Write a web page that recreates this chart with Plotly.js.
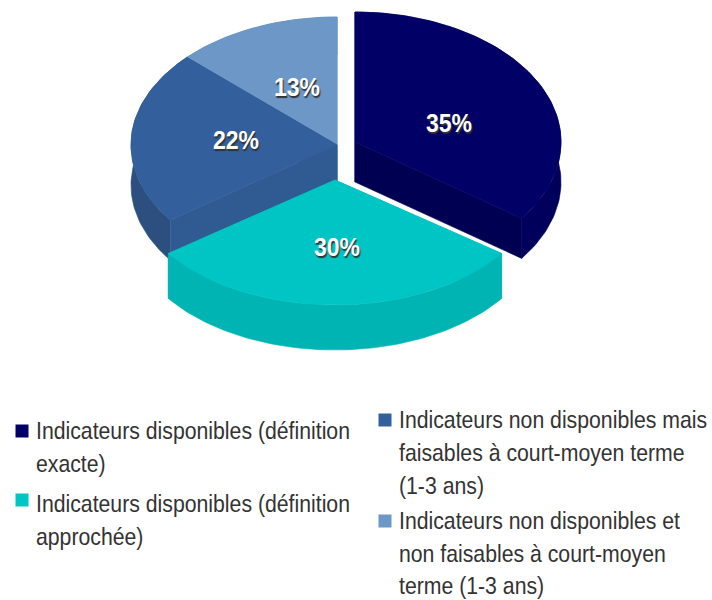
<!DOCTYPE html>
<html>
<head>
<meta charset="utf-8">
<script src="https://cdn.plot.ly/plotly-3.0.1.min.js"></script>
<style>html,body{margin:0;padding:0;background:#fff}#c{width:712px;height:600px}</style>
</head>
<body>
<div id="c"></div>
<script>
var categories = [
  "Indicateurs disponibles (définition exacte)",
  "Indicateurs disponibles (définition approchée)",
  "Indicateurs non disponibles mais faisables à court-moyen terme (1-3 ans)",
  "Indicateurs non disponibles et non faisables à court-moyen terme (1-3 ans)"
];
var values = [35, 30, 22, 13];
var legendLines = [
  ["Indicateurs disponibles (définition", "exacte)"],
  ["Indicateurs disponibles (définition", "approchée)"],
  ["Indicateurs non disponibles mais", "faisables à court-moyen terme", "(1-3 ans)"],
  ["Indicateurs non disponibles et", "non faisables à court-moyen", "terme (1-3 ans)"]
];
var topColors = ["#000066", "#00c5c5", "#335f9c", "#6c97c7"];
var edgeColors = ["#000052", "#00b4b4", "#2f5a92", "#6c97c7"];
var wallColors = ["#00005c", "#00b4b4", "#2d4f80", "#5a82b0"];

// layout constants
var cx = 337, cy = 145, rx = 206;
var radiusY = [130, 125, 128, 128], depths = [40, 45, 40, 38];
var explodeX = [18, -2, 0, 0], explodeY = [-3, 35, 0, 0];
var labelX = [449, 337, 236, 297], labelY = [126, 250, 143, 90];
var swatchX = [22, 22, 385, 385], swatchY = [431, 500, 420, 521];
var textX = [36, 36, 399, 399], textY = [433.5, 506, 422.5, 523.5], linePitch = [33, 33, 33, 32.5];
var FONT = "'Liberation Sans',Arial,sans-serif";

var total = values.reduce(function (a, b) { return a + b; }, 0);
function pt(c, ry, a, dz) {
  return [c[0] + rx * Math.sin(a), c[1] - ry * Math.cos(a) + (dz || 0)];
}
function poly(pts, color) {
  return {
    type: "scatter", mode: "lines", fill: "toself", fillcolor: color,
    x: pts.map(function (p) { return p[0]; }),
    y: pts.map(function (p) { return p[1]; }),
    line: { color: color, width: 0.6 }, hoverinfo: "skip", showlegend: false
  };
}
function arc(c, ry, a0, a1, dz) {
  var n = Math.max(8, Math.ceil(Math.abs(a1 - a0) * 40)), out = [];
  for (var i = 0; i <= n; i++) out.push(pt(c, ry, a0 + (a1 - a0) * i / n, dz));
  return out;
}

// angular span of each slice, clockwise from the top
var spans = [], acc = 0;
values.forEach(function (v) {
  var a0 = acc / total * 2 * Math.PI;
  acc += v;
  spans.push([a0, acc / total * 2 * Math.PI]);
});
// painter's order: back slices first, front slice last
var paintOrder = [3, 2, 0, 1];
var traces = [];
paintOrder.forEach(function (i) {
  var a0 = spans[i][0], a1 = spans[i][1], ry = radiusY[i], depth = depths[i];
  var c = [cx + explodeX[i], cy + explodeY[i]];
  var cb = [c[0], c[1] + depth];
  [a0, a1].forEach(function (a) {
    traces.push(poly([c, pt(c, ry, a), pt(c, ry, a, depth), cb, c], edgeColors[i]));
  });
  traces.push(poly(arc(c, ry, a0, a1, 0).concat(arc(c, ry, a1, a0, depth)), wallColors[i]));
  traces.push(poly([c].concat(arc(c, ry, a0, a1, 0)).concat([c]), topColors[i]));
});

// percentage labels
traces.push({
  type: "scatter", mode: "text", x: labelX, y: labelY,
  text: values.map(function (v) { return v + "%"; }),
  textposition: "middle center",
  textfont: { family: FONT, size: 26, color: "#ffffff", weight: 700, shadow: "1px 1px 1px #333" },
  hoverinfo: "skip", showlegend: false
});
// legend swatches
traces.push({
  type: "scatter", mode: "markers", x: swatchX, y: swatchY, name: "legende",
  customdata: categories,
  marker: { symbol: "square", size: 13, color: topColors, line: { width: 0 } },
  hoverinfo: "skip", showlegend: false
});
// legend text, one point per line
var lx = [], ly = [], lt = [];
legendLines.forEach(function (lines, i) {
  lines.forEach(function (s, j) {
    lx.push(textX[i]); ly.push(textY[i] + j * linePitch[i]); lt.push(s);
  });
});
traces.push({
  type: "scatter", mode: "text", x: lx, y: ly, text: lt,
  textposition: "middle right",
  textfont: { family: FONT, size: 24, color: "#333333" },
  hoverinfo: "skip", showlegend: false
});

Plotly.newPlot("c", traces, {
  width: 712, height: 600,
  margin: { l: 0, r: 0, t: 0, b: 0 },
  paper_bgcolor: "#ffffff", plot_bgcolor: "#ffffff",
  xaxis: { range: [0, 712], visible: false, fixedrange: true },
  yaxis: { range: [600, 0], visible: false, fixedrange: true },
  showlegend: false
}, { displayModeBar: false, staticPlot: true }).then(function () {
  // the reference uses a condensed face: narrow each real text about its anchor
  var nodes = document.querySelectorAll("#c .textpoint text");
  nodes.forEach(function (t) {
    var x = parseFloat(t.getAttribute("x")) || 0;
    var prev = t.getAttribute("transform") || "";
    t.setAttribute("transform", prev + " translate(" + x + ",0) scale(0.885,1) translate(" + (-x) + ",0)");
  });
});
</script>
</body>
</html>
